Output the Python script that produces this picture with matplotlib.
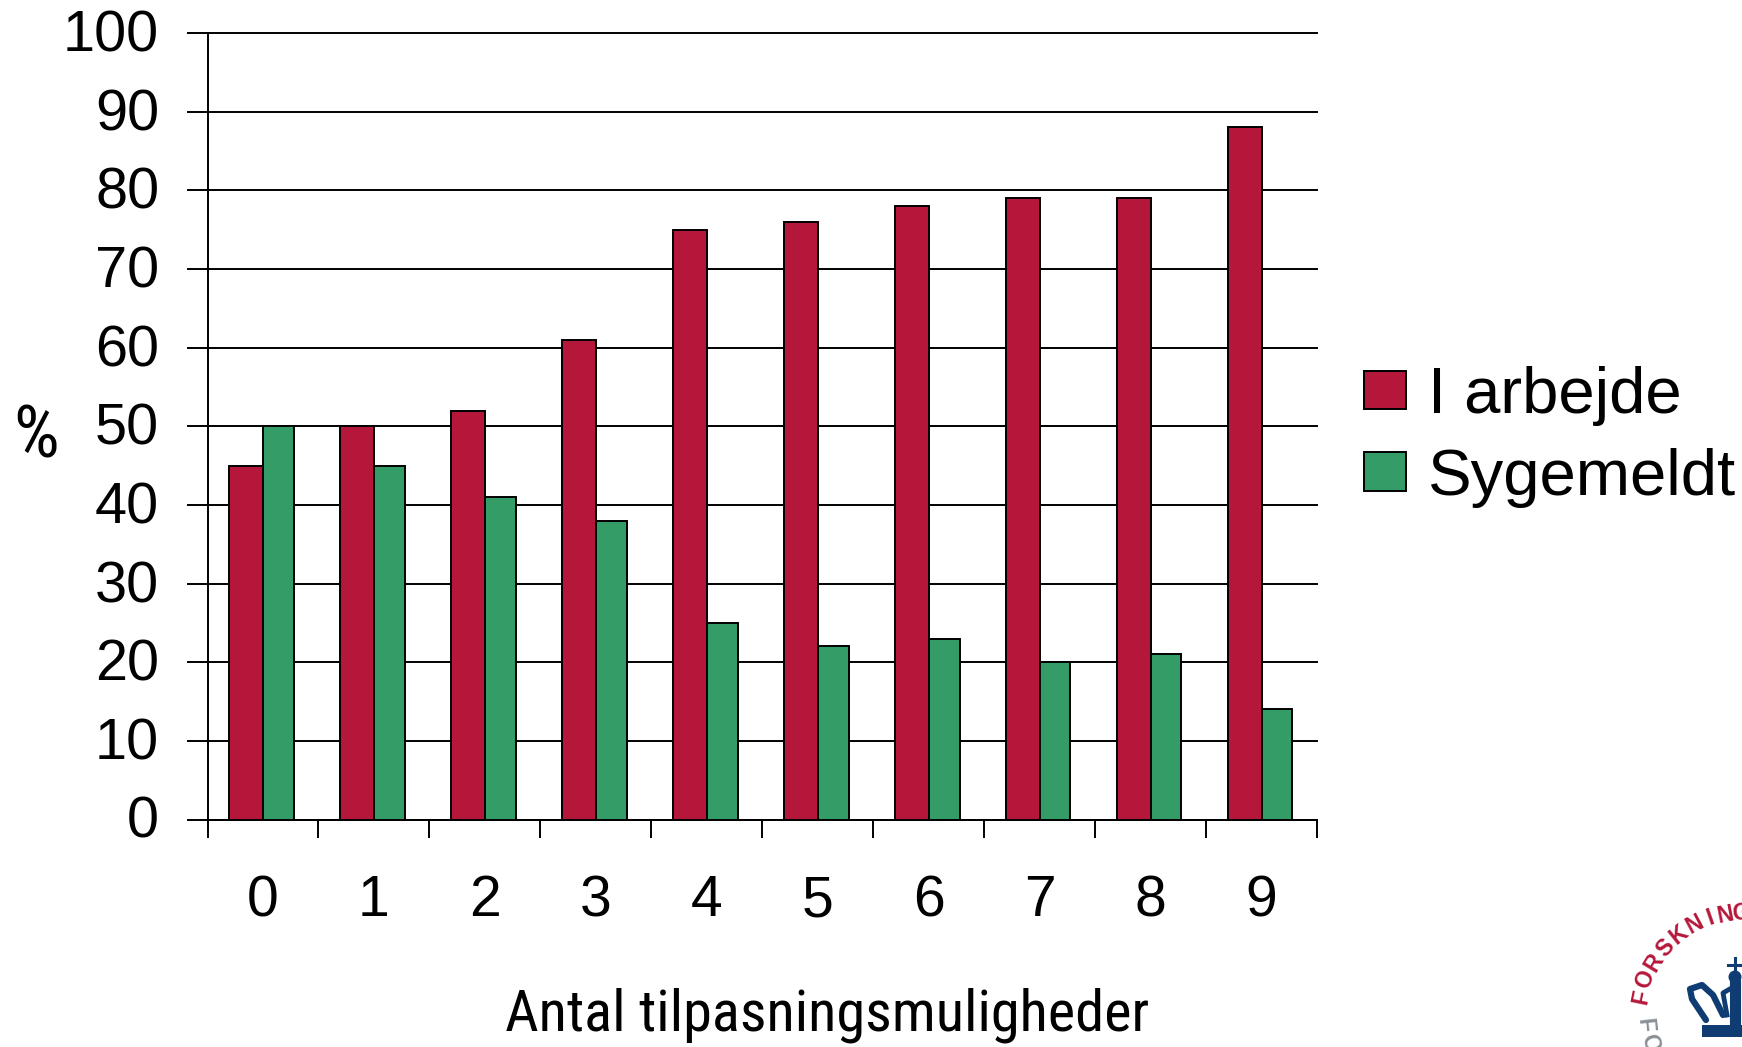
import matplotlib
matplotlib.use("Agg")
import matplotlib.pyplot as plt
import matplotlib.transforms as mtrans
import numpy as np
from matplotlib.patches import Rectangle, Circle

categories = ["0", "1", "2", "3", "4", "5", "6", "7", "8", "9"]
i_arbejde = [45, 50, 52, 61, 75, 76, 78, 79, 79, 88]
sygemeldt = [50, 45, 41, 38, 25, 22, 23, 20, 21, 14]
yticks = list(range(0, 101, 10))

W, H = 1742, 1047
plt.rcParams['font.family'] = ['Liberation Sans', 'DejaVu Sans']
narrow = ['Roboto Condensed', 'Liberation Sans']
fig = plt.figure(figsize=(W/100, H/100), dpi=100)
L, R, T, B = 207.5, 1317, 33, 819.5
ax = fig.add_axes([L/W, 1-B/H, (R-L)/W, (B-T)/H])
x = np.arange(10)
ax.bar(x, i_arbejde, -0.302, align='edge', color="#B5173A", edgecolor="black", linewidth=1.4, zorder=3, label="I arbejde")
ax.bar(x, sygemeldt, 0.278, align='edge', color="#349C66", edgecolor="black", linewidth=1.4, zorder=3, label="Sygemeldt")
ax.set_xlim(-0.5, 9.5)
ax.set_ylim(0, 100)
ax.set_yticks(yticks)
ax.set_xticks(np.arange(-0.5, 10, 1))
ax.set_xticklabels([])
ax.set_xticks(x, minor=True)
ax.set_xticklabels(categories, minor=True, fontsize=41)
ax.tick_params(axis='x', which='minor', length=0, pad=39.5)
ax.tick_params(axis='x', which='major', length=13, width=1.4, direction='out')
ax.tick_params(axis='y', length=14.8, width=1.4, direction='out', labelsize=41.5, pad=20)
shift = mtrans.ScaledTranslation(0, 2.5/100, fig.dpi_scale_trans)
for lab in ax.get_yticklabels():
    lab.set_transform(lab.get_transform() + shift)
ax.grid(axis='y', color='black', linewidth=1.4, zorder=1)
for gl in ax.get_ygridlines():
    gl.set_clip_on(False)
ax.set_axisbelow(True)
for s in ['top', 'right']:
    ax.spines[s].set_visible(False)
for s in ['left', 'bottom']:
    ax.spines[s].set_linewidth(1.4)

fig.text(36/W, 1-438/H, "%", fontsize=52, ha='center', va='center', family=narrow)
fig.text(827/W, 1-1015/H, "Antal tilpasningsmuligheder", fontsize=42, ha='center', va='center', family=narrow)

hs, ls = ax.get_legend_handles_labels()
fig.legend(hs, ls, loc='upper left', bbox_to_anchor=(1364/W, 1-366/H), frameon=False, fontsize=47,
           handlelength=0.646, handleheight=0.53, handletextpad=0.34, labelspacing=0.33, borderpad=0, borderaxespad=0)

# logo fragment in the lower right corner, drawn in pixel coordinates
logo = fig.add_axes([0, 0, 1, 1], zorder=5)
logo.axis('off')
logo.patch.set_alpha(0)
RED, NAVY, GREY = "#B5173A", "#0F3D73", "#8A9096"
cx, cy = 1745, 1018
ring_letters = [("F", 1642, 997), ("O", 1645, 979), ("R", 1654, 963), ("S", 1666, 948), ("K", 1679, 935),
                ("N", 1695, 924), ("I", 1710, 918), ("N", 1725, 915), ("G", 1741, 913)]
for ch, px, py in ring_letters:
    ang = np.degrees(np.arctan2(cy-py, px-cx)) - 90
    logo.text(px, py, ch, color=RED, fontsize=16.5, fontweight='bold', ha='center', va='center', rotation=ang)
for ch, px, py, rot in [("F", 1645, 1025, -84), ("O", 1650, 1043, -75)]:
    logo.text(px, py, ch, color=GREY, fontsize=16.5, fontweight='bold', ha='center', va='center', rotation=rot)
logo.add_patch(Rectangle((1702, 1025), 60, 12, color=NAVY, lw=0))
logo.add_patch(Circle((1735, 977), 6.5, color=NAVY, lw=0))
logo.plot([1735, 1735], [958, 972], color=NAVY, lw=2.2)
logo.plot([1728, 1742], [965, 965], color=NAVY, lw=2.2)
logo.plot([1735, 1735], [985, 1020], color=NAVY, lw=8)
logo.plot([1706, 1692, 1690, 1702, 1713, 1723], [1020, 999, 989, 985, 995, 1015],
          color=NAVY, lw=4.5, solid_joinstyle='round', solid_capstyle='round')
logo.plot([1727, 1723, 1735], [1015, 993, 986], color=NAVY, lw=3.5, solid_joinstyle='round')
logo.set_xlim(0, W)
logo.set_ylim(H, 0)
fig.savefig("out.png", dpi=100)
